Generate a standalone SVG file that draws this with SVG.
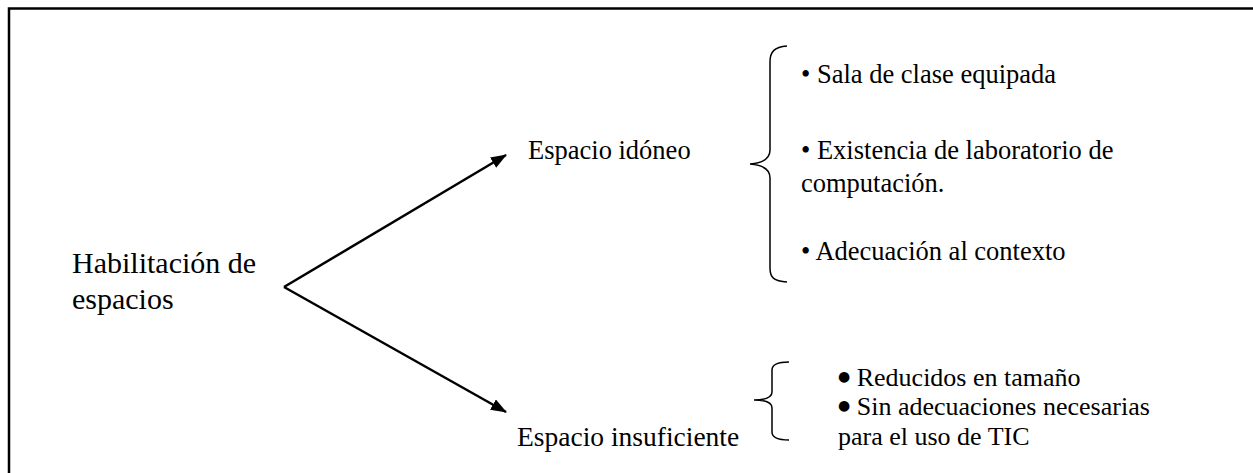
<svg xmlns="http://www.w3.org/2000/svg" width="1253" height="473" viewBox="0 0 1253 473">
<style>
text{font-family:"Liberation Serif","Times New Roman",serif;fill:#000;}
.t{font-size:26.5px;}
.s{font-size:26px;}
.big{font-size:30px;}
.dot{font-size:14px;font-family:"DejaVu Sans",sans-serif;}
.ln{fill:none;stroke:#000;stroke-width:2.5;}
.br{fill:none;stroke:#000;stroke-width:1.5;}
</style>
<defs>
<marker id="ah" markerWidth="16" markerHeight="12" refX="15" refY="6" orient="auto" markerUnits="userSpaceOnUse">
<path d="M0,0 L16,6 L0,12 Z" fill="#000"/>
</marker>
</defs>
<rect width="1253" height="473" fill="#fff"/>
<path d="M9,473 L9,8.5 L1253,8.5" fill="none" stroke="#000" stroke-width="2.5"/>
<g id="root"><text class="big" x="72" y="273">Habilitación de</text><text class="big" x="72" y="309">espacios</text></g>
<g id="connectors">
<path class="ln" d="M284,287 L506,412" marker-end="url(#ah)"/>
<path class="ln" d="M284,287 L506,155" marker-end="url(#ah)"/>
</g>
<g id="idoneo"><text class="t" x="528" y="159">Espacio idóneo</text></g>
<g id="insuficiente"><text class="t" x="517" y="446" style="font-size:27.5px">Espacio insuficiente</text></g>
<g id="brace1"><path class="br" d="M787,46 C774,47 770,52 770,62 L770,150 C770,158 764,163 750,164 C764,165 770,170 770,178 L770,268 C770,278 774,281 787,282"/></g>
<g id="brace2"><path class="br" d="M789,362 C776,362 772,365 772,370 L772,392 C772,397 766,400 754,400 C766,400 772,403 772,408 L772,432 C772,437 776,440 789,440"/></g>
<g id="list1">
<text class="t" x="801" y="83">• Sala de clase equipada</text>
<text class="t" x="801" y="159">• Existencia de laboratorio de</text>
<text class="t" x="801" y="192">computación.</text>
<text class="t" x="801" y="260">• Adecuación al contexto</text>
</g>
<g id="list2">
<text class="s" x="838" y="386"><tspan class="dot" dy="-5">●</tspan><tspan dy="5"> Reducidos en tamaño</tspan></text>
<text class="s" x="838" y="415"><tspan class="dot" dy="-5">●</tspan><tspan dy="5"> Sin adecuaciones necesarias</tspan></text>
<text class="s" x="838" y="445">para el uso de TIC</text>
</g>
</svg>
